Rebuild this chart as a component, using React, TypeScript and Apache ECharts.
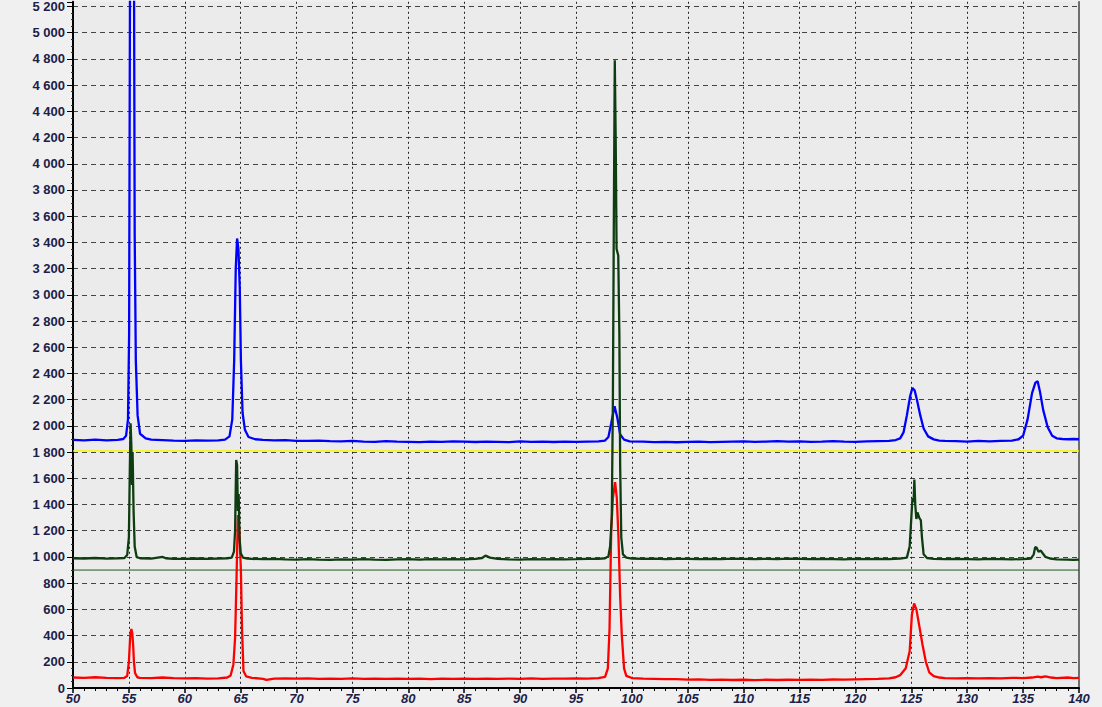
import React, { useEffect, useRef } from "react";
import * as echarts from "echarts";

const xTicks = { min: 50, max: 140, interval: 5 };
const yTicks = { min: 0, max: 5236, interval: 200 };

const yellowLevel = 1810;
const greenLevel = 900;

const blueData: [number, number][] = [
  [50,1893],[51,1890],[52,1895],[53,1890],[54,1893],[54.5,1900],[54.75,1925],[54.92,2050],[55.02,2700],[55.1,5400],[55.46,5400],[55.52,3450],[55.62,2500],[55.78,2080],[56,1940],[56.5,1905],[57,1895],[58,1892],[59,1888],[60,1886],[61,1890],[62,1887],[63,1890],[63.6,1895],[64.0,1920],[64.25,2050],[64.42,2500],[64.56,3200],[64.68,3430],[64.8,3350],[64.92,3050],[65.02,2500],[65.17,2100],[65.38,1970],[65.7,1915],[66.3,1898],[67,1893],[68,1890],[69,1892],[70,1886],[71,1885],[72,1888],[73,1884],[74,1882],[75,1885],[76,1880],[77,1878],[78,1884],[79,1880],[80,1878],[81,1876],[82,1880],[83,1878],[84,1882],[85,1880],[86,1877],[87,1880],[88,1878],[89,1876],[90,1882],[91,1878],[92,1880],[93,1877],[94,1880],[95,1878],[96,1880],[97,1882],[97.6,1888],[97.9,1915],[98.15,2020],[98.45,2150],[98.7,2060],[98.95,1935],[99.3,1895],[99.8,1882],[101,1880],[102,1876],[103,1878],[104,1875],[105,1878],[106,1880],[107,1876],[108,1878],[109,1880],[110,1882],[111,1878],[112,1880],[113,1883],[114,1880],[115,1882],[116,1878],[117,1880],[118,1883],[119,1880],[120,1878],[121,1882],[122,1884],[123,1886],[123.6,1892],[124.0,1905],[124.3,1950],[124.6,2080],[124.9,2230],[125.1,2290],[125.3,2270],[125.5,2200],[125.8,2080],[126.1,1980],[126.5,1920],[127,1897],[127.5,1888],[128,1885],[129,1883],[130,1880],[131,1885],[132,1882],[133,1886],[134,1888],[134.6,1898],[135.0,1925],[135.4,2050],[135.8,2250],[136.1,2330],[136.3,2340],[136.5,2265],[136.8,2120],[137.2,1990],[137.6,1925],[138,1905],[138.5,1900],[139,1898],[139.5,1900],[140,1898]
];

const greenData: [number, number][] = [
  [50,990],[51,988],[52,992],[53,987],[54,990],[54.6,992],[54.85,1015],[55.0,1150],[55.08,1650],[55.15,2020],[55.22,1850],[55.28,1550],[55.33,1800],[55.42,1350],[55.52,1080],[55.7,998],[56,990],[57,988],[58,1000],[58.3,990],[59,986],[60,985],[61,988],[62,986],[63,988],[63.8,990],[64.2,995],[64.4,1040],[64.5,1200],[64.6,1740],[64.68,1700],[64.75,1350],[64.82,1480],[64.9,1150],[65.0,1030],[65.2,995],[65.6,988],[66,985],[67,983],[68,985],[69,982],[70,980],[71,983],[72,980],[73,978],[74,982],[75,980],[76,983],[77,980],[78,978],[79,982],[80,983],[81,980],[82,983],[83,981],[84,984],[85,982],[86,985],[86.6,992],[86.9,1010],[87.3,995],[88,985],[89,982],[90,980],[91,983],[92,981],[93,984],[94,982],[95,983],[96,985],[97,986],[97.6,990],[97.9,1005],[98.05,1080],[98.2,1300],[98.3,2200],[98.4,3800],[98.47,4790],[98.55,4200],[98.63,3350],[98.78,3300],[98.88,2700],[98.95,1700],[99.05,1150],[99.2,1020],[99.5,995],[100,988],[101,985],[102,987],[103,984],[104,986],[105,985],[106,983],[107,986],[108,984],[109,987],[110,985],[111,983],[112,986],[113,984],[114,987],[115,985],[116,983],[117,986],[118,984],[119,982],[120,985],[121,983],[122,986],[123,984],[124,988],[124.6,995],[124.85,1080],[125.0,1300],[125.1,1450],[125.2,1420],[125.27,1590],[125.35,1400],[125.45,1290],[125.55,1340],[125.7,1300],[125.85,1280],[125.95,1150],[126.1,1020],[126.4,992],[127,985],[128,983],[129,986],[130,984],[131,982],[132,985],[133,983],[134,981],[135,984],[135.7,988],[135.95,1020],[136.08,1075],[136.2,1072],[136.38,1040],[136.58,1048],[136.75,1028],[137.0,1000],[137.4,988],[138,982],[139,980],[139.5,978],[140,980]
];

const redData: [number, number][] = [
  [50,80],[51,78],[52,82],[53,78],[54,76],[54.6,78],[54.85,92],[55.0,200],[55.12,400],[55.22,450],[55.3,420],[55.38,330],[55.45,200],[55.55,115],[55.75,82],[56,78],[57,76],[58,80],[59,76],[60,74],[61,76],[62,72],[63,74],[63.8,80],[64.1,95],[64.35,180],[64.5,380],[64.62,800],[64.75,1320],[64.88,1200],[65.02,900],[65.12,450],[65.25,130],[65.5,88],[66,78],[67,70],[67.3,62],[68,72],[69,74],[70,72],[71,74],[72,70],[73,72],[74,70],[75,73],[76,70],[77,72],[78,69],[79,72],[80,70],[81,72],[82,68],[83,71],[84,69],[85,72],[86,70],[87,72],[88,69],[89,71],[90,70],[91,73],[92,70],[93,72],[94,71],[95,73],[96,72],[97,75],[97.6,85],[97.85,150],[98.0,450],[98.15,1200],[98.3,1450],[98.5,1570],[98.65,1450],[98.8,1150],[98.95,700],[99.1,400],[99.3,150],[99.5,92],[100,76],[101,72],[102,70],[103,67],[104,68],[105,64],[106,66],[107,62],[108,64],[109,61],[110,63],[111,60],[112,63],[113,61],[114,63],[115,62],[116,64],[117,62],[118,65],[119,64],[120,66],[121,68],[122,70],[123,74],[123.6,82],[124,98],[124.5,150],[124.85,280],[125.05,560],[125.25,645],[125.45,600],[125.7,480],[126,330],[126.3,200],[126.6,120],[127,90],[127.5,80],[128,76],[129,74],[130,76],[131,73],[132,76],[133,74],[134,78],[135,76],[135.8,80],[136.3,86],[136.6,82],[137,88],[137.5,80],[138,76],[139,80],[139.5,76],[140,78]
];

const labelColor = "#1c2048";

function fmtThousands(v: number): string {
  const s = String(Math.round(v));
  return s.replace(/\B(?=(\d{3})+(?!\d))/g, " ");
}

export default function App() {
  const ref = useRef<HTMLDivElement>(null);
  useEffect(() => {
    if (!ref.current) return;
    const chart = echarts.init(ref.current, undefined, { renderer: "svg" });
    chart.setOption({
      animation: false,
      backgroundColor: "#f0f0f0",
      grid: {
        left: 73,
        right: 23,
        top: 0,
        bottom: 19,
        show: true,
        backgroundColor: "#ebebeb",
        borderWidth: 0,
      },
      xAxis: {
        type: "value",
        min: xTicks.min,
        max: xTicks.max,
        interval: xTicks.interval,
        axisLine: { show: true, onZero: false, lineStyle: { color: "#000", width: 2 } },
        axisTick: { show: true, length: 5, lineStyle: { color: "#000", width: 1.5 } },
        minorTick: { show: true, splitNumber: 5, length: 3, lineStyle: { color: "#000", width: 1 } },
        axisLabel: {
          color: labelColor,
          fontFamily: "Liberation Sans, Arial, sans-serif",
          fontWeight: "bold",
          fontStyle: "italic",
          fontSize: 13,
          margin: 4,
        },
        splitLine: {
          show: true,
          showMinLine: false,
          showMaxLine: false,
          lineStyle: { color: "#222", width: 1, type: [2, 3] },
        },
      },
      yAxis: [
        {
          type: "value",
          min: yTicks.min,
          max: yTicks.max,
          interval: yTicks.interval,
          axisLine: { show: true, onZero: false, lineStyle: { color: "#000", width: 2 } },
          axisTick: { show: true, length: 6, lineStyle: { color: "#000", width: 1 } },
          minorTick: { show: true, splitNumber: 4, length: 2, lineStyle: { color: "#333", width: 1 } },
          axisLabel: {
            color: labelColor,
            fontFamily: "Liberation Sans, Arial, sans-serif",
            fontWeight: "bold",
            fontSize: 13,
            margin: 8,
            showMaxLabel: false,
            formatter: (v: number) => fmtThousands(v),
          },
          splitLine: {
            show: true,
            showMinLine: false,
            showMaxLine: false,
            lineStyle: { color: "#444", width: 1, type: [5, 4] },
          },
        },
        {
          type: "value",
          position: "right",
          min: yTicks.min,
          max: yTicks.max,
          interval: yTicks.interval,
          axisLine: { show: true, onZero: false, lineStyle: { color: "#444", width: 1.5 } },
          axisTick: { show: false },
          axisLabel: { show: false },
          splitLine: { show: false },
        },
      ],
      series: [
        {
          type: "line",
          data: [[xTicks.min, yellowLevel], [xTicks.max, yellowLevel]],
          showSymbol: false,
          lineStyle: { color: "#f5f500", width: 1.2 },
          silent: true,
        },
        {
          type: "line",
          data: [[xTicks.min, greenLevel], [xTicks.max, greenLevel]],
          showSymbol: false,
          lineStyle: { color: "#1e5a1e", width: 1 },
          silent: true,
        },
        {
          type: "line",
          data: redData,
          showSymbol: false,
          lineStyle: { color: "#ff0000", width: 2.3 },
        },
        {
          type: "line",
          data: blueData,
          showSymbol: false,
          lineStyle: { color: "#0000ff", width: 2.3 },
        },
        {
          type: "line",
          data: greenData,
          showSymbol: false,
          lineStyle: { color: "#0f3d12", width: 2.3 },
        },
      ],
    });
    return () => chart.dispose();
  }, []);
  return (
    <div
      ref={ref}
      style={{ position: "fixed", left: 0, top: 0, width: 1102, height: 707 }}
    />
  );
}
